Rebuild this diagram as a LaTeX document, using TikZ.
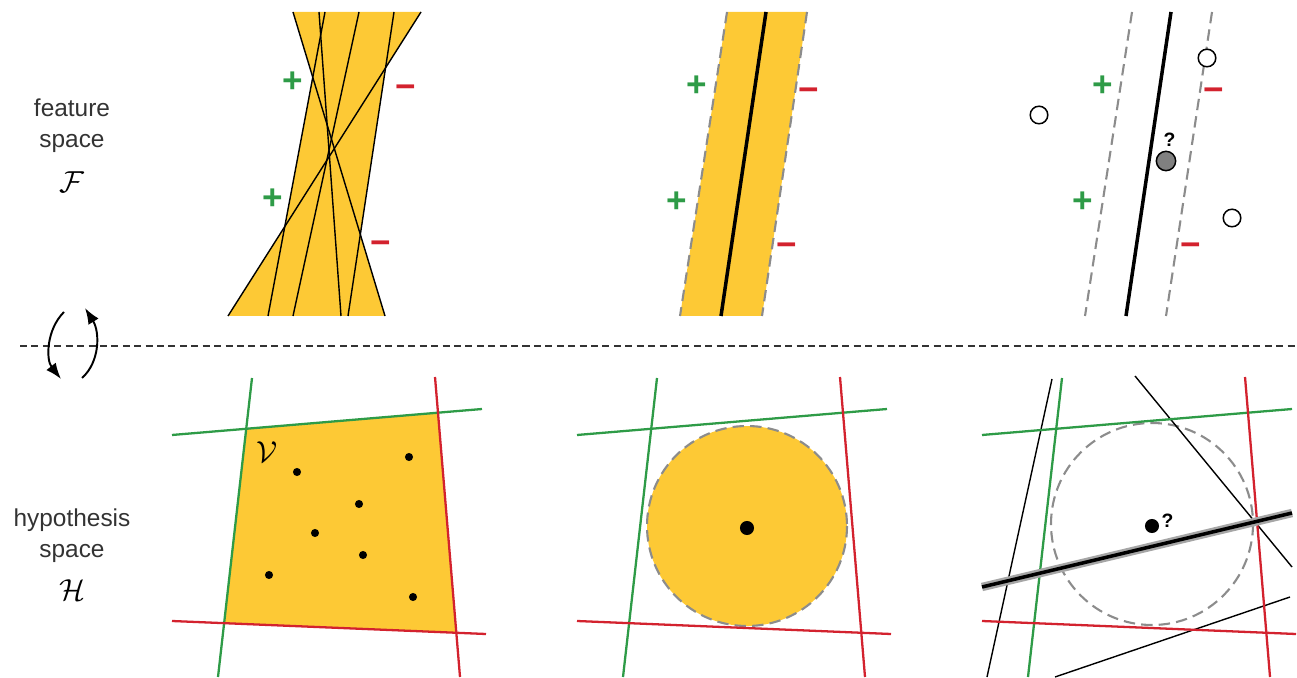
\documentclass[tikz,border=0pt]{standalone}
\usepackage{fontspec}
\setmainfont{Liberation Sans}
\usetikzlibrary{arrows.meta, positioning}
\definecolor{amarillo}{HTML}{FDC935}
\definecolor{verdeH}{HTML}{2E9B47}
\definecolor{rojoH}{HTML}{D3222E}
\definecolor{grisGuion}{HTML}{8C8C8C}
\definecolor{grisTexto}{HTML}{333333}
\tikzset{
  etiqueta/.style={align=center, text=grisTexto, inner sep=0pt,
    font=\fontsize{13.9}{17.6}\selectfont},
  simbolo/.style={inner sep=0pt, font=\fontsize{17}{20}\selectfont},
  signoMas/.style={text=verdeH, inner sep=0pt,
    font=\fontsize{20}{20}\selectfont\bfseries},
  signoMenos/.style={text=rojoH, inner sep=0pt,
    font=\fontsize{20}{20}\selectfont\bfseries},
  pregunta/.style={inner sep=0pt, font=\fontsize{11}{11}\selectfont\bfseries},
  lineaFina/.style={black, line width=0.8pt},
  lineaSep/.style={grisTexto, line width=0.6pt, dash pattern=on 4pt off 2.5pt},
  bordeGuion/.style={grisGuion, line width=1.2pt, dash pattern=on 6.5pt off 3.5pt},
  lineaGruesa/.style={black, line width=2pt},
  hipVerde/.style={verdeH, line width=1.3pt},
  hipRojo/.style={rojoH, line width=1.3pt},
  punto/.style={circle, fill=black, inner sep=0pt, minimum size=4.6pt},
  muestra/.style={circle, draw=black, line width=0.85pt, fill=white,
    inner sep=0pt, minimum size=10pt},
  flecha/.style={-{Latex[length=3.2mm, width=2.4mm]}, line width=1.1pt},
}
\begin{document}
\begin{tikzpicture}[x=0.02cm, y=-0.02cm]
  \useasboundingbox (0,0) rectangle (1297,678);

  % etiquetas de la izquierda
  \node[etiqueta] (fTexto) at (72,126) {feature\\space};
  \node[simbolo] (fSimb) at (72,182) {$\mathcal{F}$};
  \node[etiqueta] (hTexto) at (72,536) {hypothesis\\space};
  \node[simbolo] (hSimb) at (72,590) {$\mathcal{H}$};

  % separador y flechas de dualidad
  \coordinate (sepIni) at (20,346);
  \coordinate (sepFin) at (1297,346);
  \draw[lineaSep] (sepIni) -- (sepFin);
  \coordinate (izqA) at (64,312);
  \coordinate (izqB) at (61,379);
  \coordinate (derA) at (82,378);
  \coordinate (derB) at (85,308);
  \draw[flecha] (izqA) .. controls (46,330) and (46,360) .. (izqB);
  \draw[flecha] (derA) .. controls (100,362) and (100,332) .. (derB);

  % espacio de rasgos: muchas hipotesis
  \coordinate (a1) at (293,12);  \coordinate (a2) at (385,316);
  \coordinate (b1) at (421,12);  \coordinate (b2) at (228,316);
  \coordinate (d1) at (325,12);  \coordinate (d2) at (268,316);
  \coordinate (f1) at (394,12);  \coordinate (f2) at (348,316);
  \fill[amarillo] (a1) -- (b1) -- (intersection of b1--b2 and f1--f2)
    -- (intersection of f1--f2 and a1--a2) -- (a2) -- (b2)
    -- (intersection of b1--b2 and d1--d2)
    -- (intersection of d1--d2 and a1--a2) -- cycle;
  \foreach \xa/\xb in {293/385, 421/228, 319/341, 325/268, 359/293, 394/348}
    \draw[lineaFina] (\xa,12) -- (\xb,316);
  \node[signoMas] (mas1) at (293,82) {+};
  \node[signoMas] (mas2) at (273,199) {+};
  \node[signoMenos] (menos1) at (406,92) {−};
  \node[signoMenos] (menos2) at (381,248) {−};

  % espacio de rasgos: margen maximo
  \fill[amarillo] (727,12) -- (807,12) -- (762,316) -- (680,316) -- cycle;
  \draw[bordeGuion] (727,12) -- (680,316);
  \draw[bordeGuion] (807,12) -- (762,316);
  \draw[lineaGruesa] (766,12) -- (721,316);
  \node[signoMas] (mas3) at (697,86) {+};
  \node[signoMas] (mas4) at (677,202) {+};
  \node[signoMenos] (menos3) at (809,95) {−};
  \node[signoMenos] (menos4) at (787,250) {−};

  % espacio de rasgos: muestras sin etiqueta
  \draw[bordeGuion] (1132,12) -- (1085,316);
  \draw[bordeGuion] (1212,12) -- (1166,316);
  \draw[lineaGruesa] (1171,12) -- (1126,316);
  \node[muestra] (m1) at (1039,115) {};
  \node[muestra] (m2) at (1207,58) {};
  \node[muestra] (m3) at (1232,218) {};
  \node[muestra, fill=gray, minimum size=11pt] (m4) at (1166,161) {};
  \node[pregunta, above=2pt of m4, xshift=2pt] (q1) {?};
  \node[signoMas] (mas5) at (1103,86) {+};
  \node[signoMas] (mas6) at (1083,202) {+};
  \node[signoMenos] (menos5) at (1214,95) {−};
  \node[signoMenos] (menos6) at (1191,250) {−};

  % espacio de hipotesis: version space
  \coordinate (gv1) at (252,378);  \coordinate (gv2) at (218,677);
  \coordinate (gh1) at (172,435);  \coordinate (gh2) at (482,409);
  \coordinate (rv1) at (435,377);  \coordinate (rv2) at (460,677);
  \coordinate (rh1) at (172,621);  \coordinate (rh2) at (486,634);
  \fill[amarillo] (intersection of gv1--gv2 and gh1--gh2)
    -- (intersection of gh1--gh2 and rv1--rv2)
    -- (intersection of rv1--rv2 and rh1--rh2)
    -- (intersection of rh1--rh2 and gv1--gv2) -- cycle;
  \node[simbolo] (vSimb) at (267,452) {$\mathcal{V}$};
  \foreach \px/\py [count=\i] in {297/472, 409/457, 359/504, 315/533,
      363/555, 269/575, 413/597}
    \node[punto] (v\i) at (\px,\py) {};

  % espacio de hipotesis: bola inscrita
  \fill[amarillo] (747,526) circle[radius=100];
  \draw[bordeGuion] (747,526) circle[radius=100];
  \node[punto, minimum size=8pt] (centro) at (747,528) {};

  % espacio de hipotesis: consulta
  \draw[bordeGuion] (1152,524) circle[radius=101];
  \draw[lineaFina] (1052,379) -- (987,677);
  \draw[lineaFina] (1135,376) -- (1292,567);
  \draw[lineaFina] (1055,677) -- (1290,597);

  % mismas restricciones en los tres paneles
  \foreach \dx in {0,405,810} {
    \begin{scope}[shift={(\dx,0)}]
      \draw[hipVerde] (252,378) -- (218,677);
      \draw[hipVerde] (172,435) -- (482,409);
      \draw[hipRojo] (435,377) -- (460,677);
      \draw[hipRojo] (172,621) -- (486,634);
    \end{scope}
  }

  \coordinate (corteA) at (982,587);
  \coordinate (corteB) at (1292,513);
  \draw[gray!70, line width=4.8pt] (corteA) -- (corteB);
  \draw[lineaGruesa] (corteA) -- (corteB);
  \node[punto, minimum size=8pt] (consulta) at (1152,526) {};
  \node[pregunta, right=1pt of consulta, yshift=3pt] (q2) {?};
\end{tikzpicture}
\end{document}
